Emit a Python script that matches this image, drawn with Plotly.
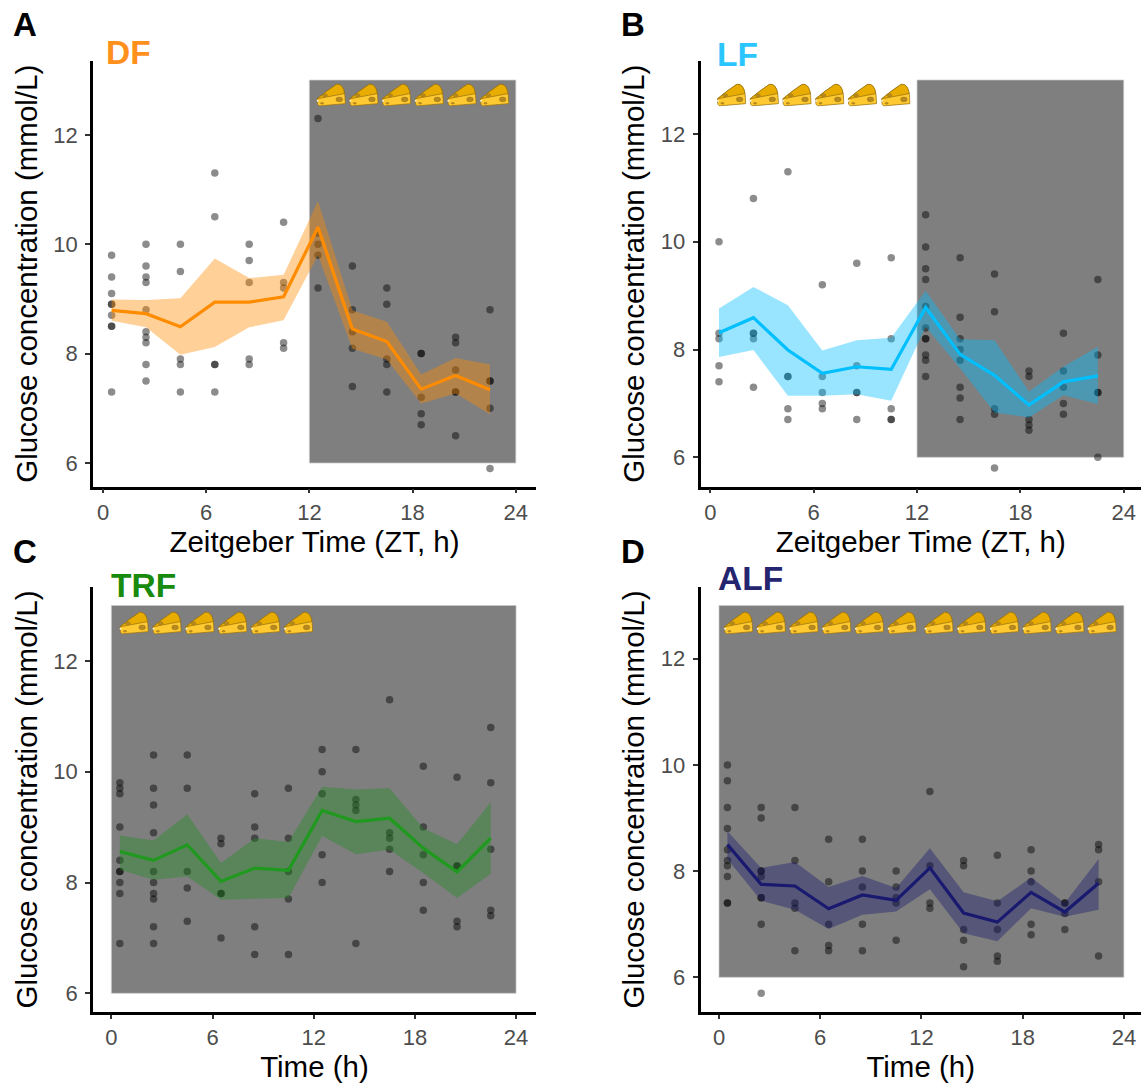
import base64
import plotly.graph_objects as go

W, H = 1141, 1083
TIMES = [0.5, 2.5, 4.5, 6.5, 8.5, 10.5, 12.5, 14.5, 16.5, 18.5, 20.5, 22.5]
X_TICKS = [0, 6, 12, 18, 24]
Y_TICKS = [6, 8, 10, 12]
Y_LABEL = "Glucose concentration (mmol/L)"

DF_MEAN = [8.79, 8.73, 8.49, 8.94, 8.94, 9.04, 10.31, 8.45, 8.22, 7.35, 7.60, 7.34]
DF_UP = [8.99, 8.98, 9.01, 9.74, 9.38, 9.44, 10.79, 8.79, 8.58, 7.62, 7.92, 7.80]
DF_LOW = [8.60, 8.48, 7.98, 8.12, 8.48, 8.61, 9.80, 8.09, 7.89, 7.09, 7.27, 6.89]
DF_POINTS = [
    [9.8, 9.4, 9.1, 8.9, 8.9, 8.7, 8.5, 8.5, 7.3],
    [10.0, 9.6, 9.4, 9.3, 8.8, 8.4, 8.3, 8.2, 7.8, 7.5],
    [10.0, 9.5, 7.9, 7.8, 7.3],
    [11.3, 10.5, 7.8, 7.8, 7.3],
    [10.0, 9.7, 9.3, 7.9, 7.8],
    [10.4, 9.3, 9.2, 8.2, 8.1],
    [12.3, 10.2, 10.0, 9.8, 9.2],
    [9.6, 8.8, 8.4, 8.1, 7.4],
    [9.2, 8.9, 7.9, 7.8, 7.3],
    [8.0, 8.0, 7.2, 6.9, 6.7],
    [8.3, 8.2, 7.7, 7.3, 7.3, 6.5],
    [8.8, 7.5, 7.5, 7.0, 5.9],
]

LF_MEAN = [8.31, 8.59, 7.99, 7.56, 7.68, 7.63, 8.78, 7.91, 7.52, 6.97, 7.40, 7.51]
LF_UP = [8.76, 9.16, 8.82, 7.98, 8.17, 8.22, 9.09, 8.19, 8.17, 7.22, 7.68, 8.05]
LF_LOW = [7.86, 7.99, 7.14, 7.14, 7.17, 7.05, 8.42, 7.65, 6.83, 6.74, 7.15, 6.99]
LF_POINTS = [
    [10.0, 8.3, 8.2, 7.7, 7.4],
    [10.8, 8.3, 8.3, 8.2, 7.3],
    [11.3, 7.5, 7.5, 6.9, 6.7],
    [9.2, 7.5, 7.2, 7.0, 6.9],
    [9.6, 7.7, 7.2, 7.2, 6.7],
    [9.7, 8.2, 6.9, 6.7, 6.7],
    [10.5, 9.9, 9.5, 9.3, 8.8, 8.4, 8.2, 8.2, 7.9, 7.8, 7.5],
    [9.7, 8.6, 8.2, 8.0, 7.8, 7.3, 7.1, 6.7],
    [9.4, 8.7, 6.9, 6.8, 5.8],
    [7.6, 7.5, 6.7, 6.6, 6.5],
    [8.3, 7.6, 7.3, 7.0, 6.8],
    [9.3, 7.9, 7.2, 7.2, 6.0],
]

TRF_MEAN = [8.56, 8.40, 8.68, 8.02, 8.26, 8.22, 9.30, 9.10, 9.16, 8.62, 8.19, 8.80]
TRF_UP = [8.85, 8.76, 9.23, 8.35, 8.80, 8.73, 9.73, 9.68, 9.70, 8.98, 8.69, 9.45]
TRF_LOW = [8.23, 8.05, 8.11, 7.69, 7.70, 7.72, 8.84, 8.51, 8.59, 8.17, 7.72, 8.16]
TRF_POINTS = [
    [9.8, 9.7, 9.6, 9.0, 8.4, 8.2, 8.2, 8.0, 7.8, 6.9],
    [10.3, 9.7, 9.4, 8.9, 8.2, 8.0, 7.8, 7.7, 7.2, 6.9],
    [10.3, 9.7, 8.2, 7.9, 7.3],
    [8.8, 8.7, 7.8, 7.8, 7.0],
    [9.6, 9.0, 8.8, 7.2, 6.7],
    [9.7, 8.8, 8.2, 7.7, 6.7],
    [10.4, 10.0, 9.6, 8.5, 8.0],
    [10.4, 9.5, 9.4, 9.3, 6.9],
    [11.3, 8.9, 8.8, 8.6, 8.2],
    [10.1, 9.0, 8.5, 8.0, 7.5],
    [9.9, 8.3, 8.3, 7.3, 7.2],
    [10.8, 9.8, 8.6, 7.5, 7.4],
]

ALF_MEAN = [8.50, 7.75, 7.72, 7.29, 7.55, 7.45, 8.06, 7.21, 7.04, 7.60, 7.23, 7.77]
ALF_UP = [8.75, 8.06, 8.17, 7.70, 7.91, 7.68, 8.43, 7.60, 7.43, 7.88, 7.40, 8.23]
ALF_LOW = [8.23, 7.44, 7.27, 6.91, 7.18, 7.24, 7.66, 6.83, 6.68, 7.30, 7.14, 7.27]
ALF_POINTS = [
    [10.0, 9.7, 9.2, 8.8, 8.4, 8.2, 8.1, 7.9, 7.4, 7.4],
    [9.2, 9.0, 8.0, 8.0, 7.9, 7.5, 7.5, 7.0, 5.7],
    [9.2, 8.2, 7.4, 7.3, 6.5],
    [8.6, 7.8, 7.0, 6.6, 6.5],
    [8.6, 8.0, 7.7, 7.0, 6.5],
    [8.0, 7.7, 7.5, 7.4, 6.7],
    [9.5, 8.1, 7.4, 7.3],
    [8.2, 8.1, 6.9, 6.7, 6.2],
    [8.3, 7.4, 6.9, 6.4, 6.3],
    [8.4, 8.0, 7.8, 7.0, 6.8],
    [7.4, 7.4, 7.2, 6.9],
    [8.5, 8.4, 7.8, 6.4],
]

DF_CHEESE = [13.26, 15.16, 17.06, 18.96, 20.86, 22.76]
LF_CHEESE = [1.22, 3.12, 5.02, 6.92, 8.82, 10.76]
TRF_CHEESE = [1.34, 3.29, 5.24, 7.19, 9.14, 11.09]
ALF_CHEESE = [1.15, 3.09, 5.03, 6.97, 8.91, 10.85, 13.03, 14.97, 16.91, 18.85, 20.79, 22.7]

CHEESE_SVG = """<svg xmlns="http://www.w3.org/2000/svg" width="90" height="72" viewBox="0 0 30 24">
<path d="M1 16 Q10 8 20.5 0.8 Q27 0 28.8 12 L29.3 21 L3 23.4 L1.4 21.5 Z" fill="#ffc931" stroke="#8f6d12" stroke-width="0.7"/>
<path d="M1 16 Q10 8 20.5 0.8 Q27 0 28.6 10.5 Z" fill="#e9ac00" stroke="#8f6d12" stroke-width="0.7"/>
<ellipse cx="8.8" cy="12.2" rx="2.5" ry="1.6" fill="#b68a1f" stroke="#8f6d12" stroke-width="0.4"/>
<ellipse cx="23.2" cy="16.6" rx="3.3" ry="2.4" fill="#b68a1f" stroke="#8f6d12" stroke-width="0.4"/>
<ellipse cx="6" cy="20.6" rx="1.7" ry="1.4" fill="#b68a1f"/>
<circle cx="1.6" cy="18" r="1" fill="#f4f0e2"/>
</svg>"""
CHEESE_URI = "data:image/svg+xml;base64," + base64.b64encode(CHEESE_SVG.encode()).decode()

# panel frame in pixels, plus the pixel calibration of the axes
PANELS = [
    dict(name="DF", letter="A", color="#ff8c00", title_color="#ff901c", ribbon="rgba(255,140,0,0.40)",
         mean=DF_MEAN, up=DF_UP, low=DF_LOW, pts=DF_POINTS, cheese=DF_CHEESE, start=12,
         L=93, R=536, T=61, B=486.5, x0=103, xs=17.2, y6=463, ys=54.7, xlabel="Zeitgeber Time (ZT, h)",
         letter_xy=(11, 24.5), title_xy=(104, 53)),
    dict(name="LF", letter="B", color="#00bfff", title_color="#2bc6ff", ribbon="rgba(0,191,255,0.40)",
         mean=LF_MEAN, up=LF_UP, low=LF_LOW, pts=LF_POINTS, cheese=LF_CHEESE, start=12,
         L=700.5, R=1141, T=61, B=486.5, x0=710.4, xs=17.22, y6=457.3, ys=53.9, xlabel="Zeitgeber Time (ZT, h)",
         letter_xy=(619, 24.5), title_xy=(715, 55)),
    dict(name="TRF", letter="C", color="#1f9a1f", title_color="#188a0c", ribbon="rgba(34,139,34,0.40)",
         mean=TRF_MEAN, up=TRF_UP, low=TRF_LOW, pts=TRF_POINTS, cheese=TRF_CHEESE, start=0,
         L=93, R=536, T=587, B=1012, x0=111.4, xs=16.86, y6=993.3, ys=55.4, xlabel="Time (h)",
         letter_xy=(11, 551), title_xy=(109, 585)),
    dict(name="ALF", letter="D", color="#191970", title_color="#25256f", ribbon="rgba(25,25,112,0.40)",
         mean=ALF_MEAN, up=ALF_UP, low=ALF_LOW, pts=ALF_POINTS, cheese=ALF_CHEESE, start=0,
         L=700.5, R=1141, T=587, B=1012, x0=719, xs=16.87, y6=977.3, ys=53.1, xlabel="Time (h)",
         letter_xy=(619, 551), title_xy=(716, 578)),
]

fig = go.Figure()
layout = dict(
    width=W, height=H, margin=dict(l=0, r=0, t=0, b=0), autosize=False,
    paper_bgcolor="white", plot_bgcolor="white", showlegend=False,
    font=dict(family="Liberation Sans, Arial, sans-serif"), hovermode=False,
)
shapes, annotations, images = [], [], []

for i, p in enumerate(PANELS, start=1):
    xname = "xaxis" if i == 1 else f"xaxis{i}"
    yname = "yaxis" if i == 1 else f"yaxis{i}"
    anchor_x = "x" if i == 1 else f"x{i}"
    anchor_y = "y" if i == 1 else f"y{i}"
    common = dict(showgrid=False, zeroline=False, showline=True, linecolor="black", linewidth=2.5,
                  ticks="outside", tickwidth=1.5, tickcolor="#333333",
                  tickfont=dict(size=22, color="#4d4d4d"))
    layout[xname] = dict(
        common, domain=[p["L"] / W, p["R"] / W], anchor=anchor_y, ticklen=4,
        range=[(p["L"] - p["x0"]) / p["xs"], (p["R"] - p["x0"]) / p["xs"]],
        tickvals=X_TICKS,
        title=dict(text=p["xlabel"], font=dict(size=29.5, color="black"), standoff=8),
    )
    layout[yname] = dict(
        common, domain=[1 - p["B"] / H, 1 - p["T"] / H], anchor=anchor_x, ticklen=5,
        range=[6 - (p["B"] - p["y6"]) / p["ys"], 6 + (p["y6"] - p["T"]) / p["ys"]],
        tickvals=Y_TICKS, ticklabelstandoff=3,
        title=dict(text=Y_LABEL, font=dict(size=29.5, color="black"), standoff=8),
    )
    shapes.append(dict(type="rect", xref=anchor_x, yref=anchor_y, x0=p["start"], x1=24, y0=6, y1=13,
                       fillcolor="#7f7f7f", line=dict(color="rgba(200,200,200,0.7)", width=1), layer="below"))

    px, py = [], []
    for t, vals in zip(TIMES, p["pts"]):
        px += [t] * len(vals)
        py += vals
    fig.add_trace(go.Scatter(x=px, y=py, mode="markers", xaxis=anchor_x, yaxis=anchor_y,
                             marker=dict(size=7.5, color="rgba(0,0,0,0.45)", line=dict(width=0))))
    fig.add_trace(go.Scatter(x=TIMES + TIMES[::-1], y=p["up"] + p["low"][::-1], mode="lines", fill="toself",
                             xaxis=anchor_x, yaxis=anchor_y, fillcolor=p["ribbon"], line=dict(width=0)))
    fig.add_trace(go.Scatter(x=TIMES, y=p["mean"], mode="lines", xaxis=anchor_x, yaxis=anchor_y,
                             line=dict(color=p["color"], width=3.2)))

    for c in p["cheese"]:
        images.append(dict(source=CHEESE_URI, xref=anchor_x, yref=anchor_y, x=c,
                           y=6 + (p["y6"] - (p["T"] + 34)) / p["ys"] if i <= 2 else 6 + (p["y6"] - (p["T"] + 36)) / p["ys"],
                           sizex=30 / p["xs"], sizey=23 / p["ys"], xanchor="center", yanchor="middle",
                           sizing="stretch", layer="above"))

    annotations.append(dict(text=f"<b>{p['letter']}</b>", xref="paper", yref="paper", showarrow=False,
                            x=p["letter_xy"][0] / W, y=1 - p["letter_xy"][1] / H, xanchor="left", yanchor="middle",
                            font=dict(size=33, color="black")))
    annotations.append(dict(text=f"<b>{p['name']}</b>", xref="paper", yref="paper", showarrow=False,
                            x=p["title_xy"][0] / W, y=1 - p["title_xy"][1] / H, xanchor="left", yanchor="middle",
                            font=dict(size=33.5, color=p["title_color"])))

layout.update(shapes=shapes, annotations=annotations, images=images)
fig.update_layout(**layout)
fig.write_html("out.html", config=dict(displayModeBar=False),
               post_script="document.body.style.margin='0';document.body.style.overflow='hidden';")
